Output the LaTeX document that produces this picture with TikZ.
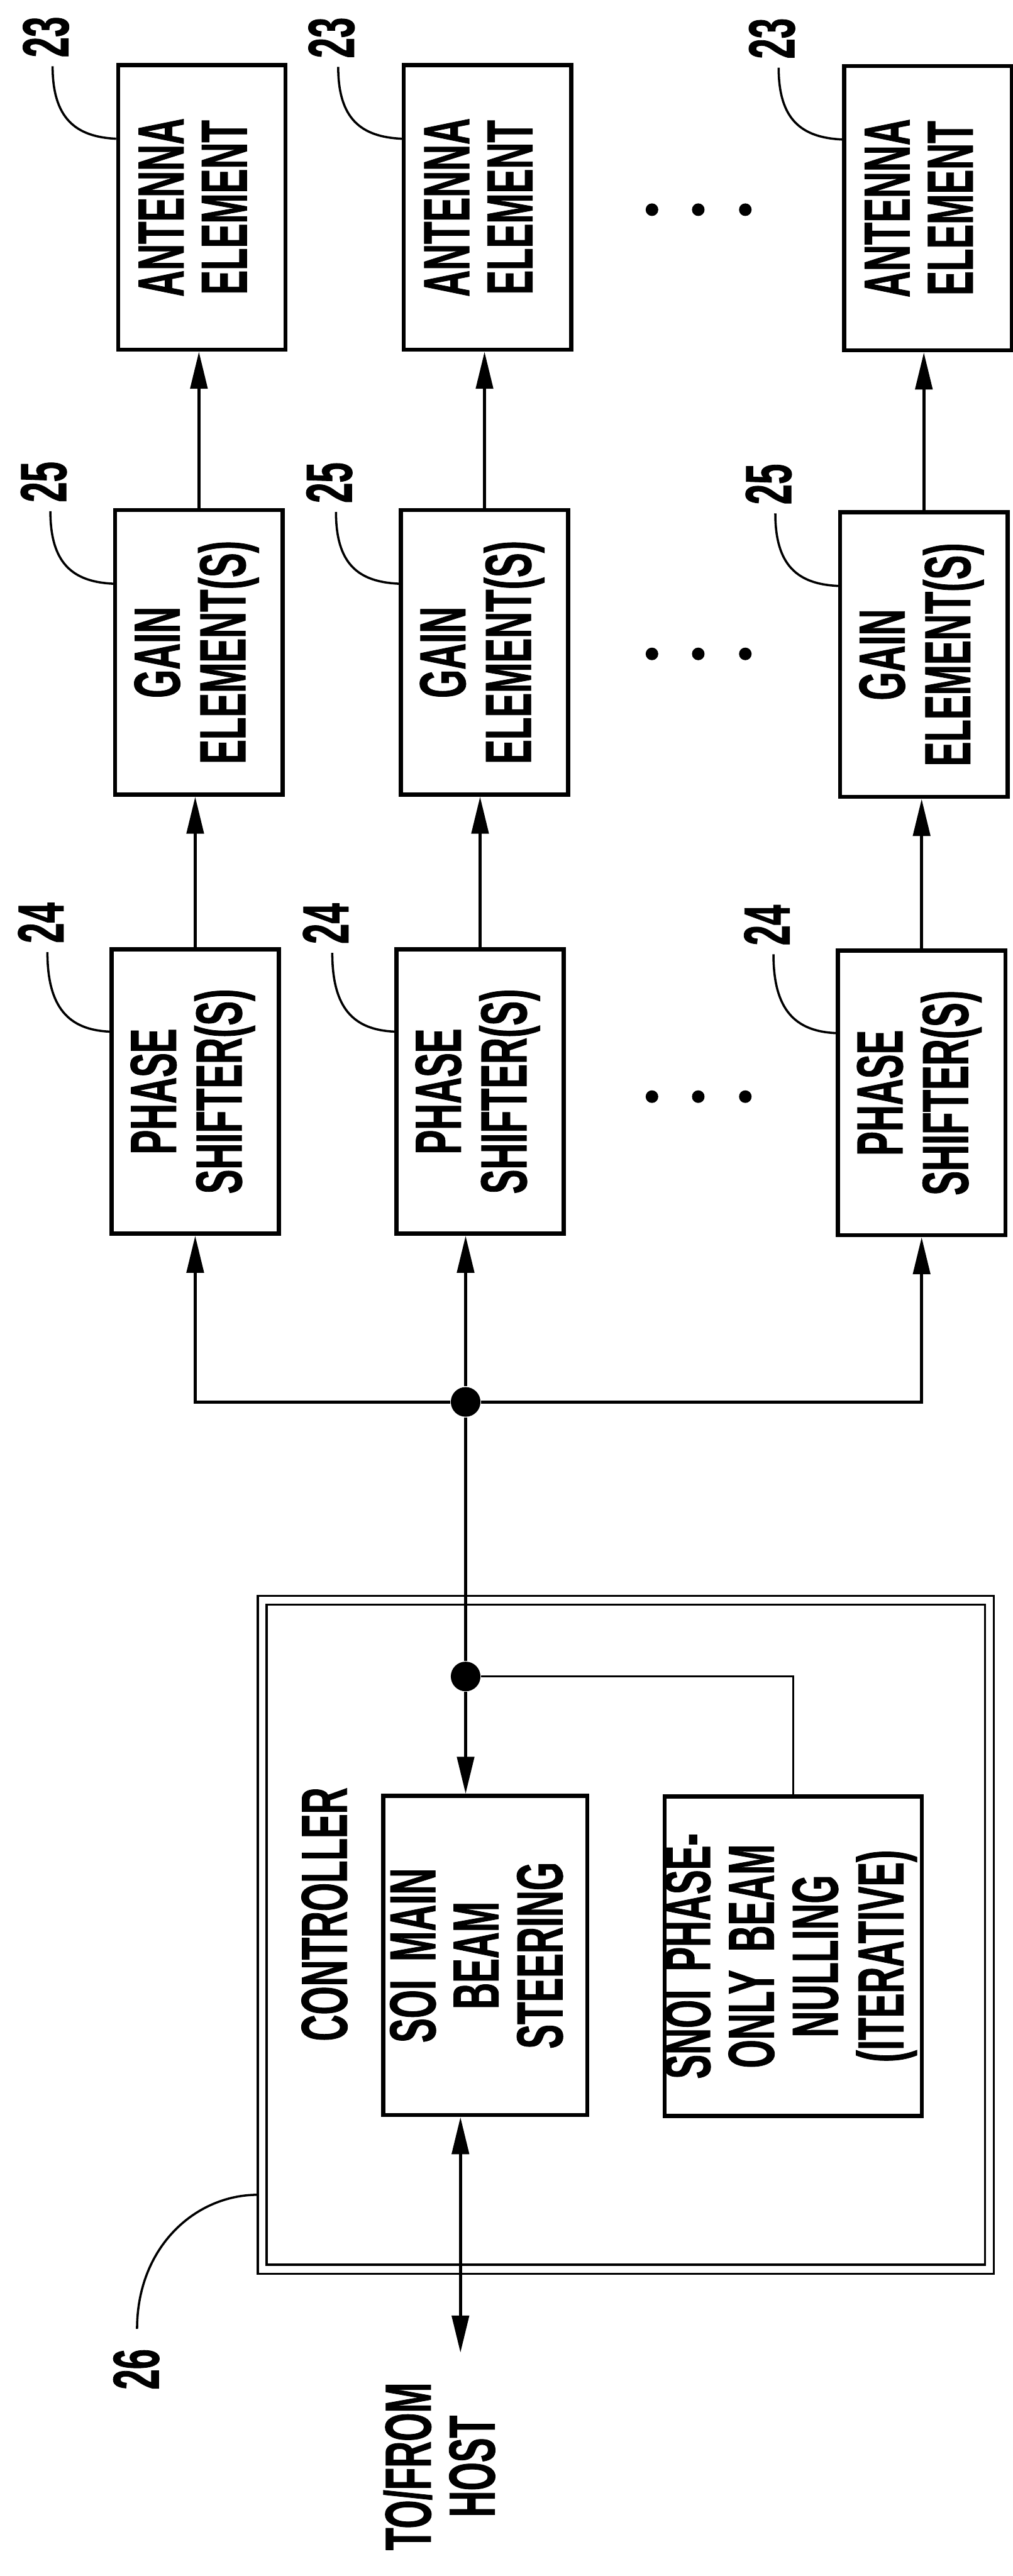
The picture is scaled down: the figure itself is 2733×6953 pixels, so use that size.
\documentclass[tikz,border=0pt]{standalone}
\usepackage{graphicx}
\usepackage{fontspec}
\newfontfamily\lbl{Liberation Sans}[FakeStretch=0.56, WordSpace=1.8, FakeBold=0.8]
\usetikzlibrary{arrows.meta,calc}
\newcommand\myfnt{\lbl\bfseries\fontsize{17.6pt}{16.5pt}\selectfont}
\newcommand\vtxt[1]{\rotatebox{90}{\begin{tabular}{@{}c@{}}#1\end{tabular}}}
\begin{document}
\begin{tikzpicture}[x=0.1pt,y=-0.1pt,
  blk/.style={draw, line width=1.1pt, inner sep=0pt, minimum width=45.2pt, minimum height=76.8pt, font=\myfnt},
  num/.style={inner sep=0pt, font=\myfnt},
  ln/.style={line width=0.8pt},
  lead/.style={line width=0.6pt},
  arr/.style={line width=0.8pt, -{Triangle[length=10pt,width=4.6pt]}},
  dbl/.style={line width=0.8pt, {Triangle[length=10pt,width=4.6pt]}-{Triangle[length=10pt,width=4.6pt]}},
  jdot/.style={circle, fill, inner sep=0pt, minimum size=8pt},
  edot/.style={circle, fill, inner sep=0pt, minimum size=3.4pt}]
\useasboundingbox (0,0) rectangle (2733,6953);

% antenna elements
\node[blk] (a1) at (545,560) {\vtxt{ANTENNA\\ELEMENT}};
\node[blk] (a2) at (1316,560) {\vtxt{ANTENNA\\ELEMENT}};
\node[blk] (a3) at (2505,562) {\vtxt{ANTENNA\\ELEMENT}};
% gain elements
\node[blk] (g1) at (537,1761) {\vtxt{GAIN\\ELEMENT(S)}};
\node[blk] (g2) at (1308,1761) {\vtxt{GAIN\\ELEMENT(S)}};
\node[blk] (g3) at (2494,1767) {\vtxt{GAIN\\ELEMENT(S)}};
% phase shifters
\node[blk] (p1) at (527,2946) {\vtxt{PHASE\\SHIFTER(S)}};
\node[blk] (p2) at (1296,2946) {\vtxt{PHASE\\SHIFTER(S)}};
\node[blk] (p3) at (2488,2950) {\vtxt{PHASE\\SHIFTER(S)}};

% reference numerals
\node[num] (n23a) at (124,100) {\rotatebox{90}{23}};
\node[num] (n23b) at (895,102) {\rotatebox{90}{23}};
\node[num] (n23c) at (2084,104) {\rotatebox{90}{23}};
\node[num] (n25a) at (118,1301) {\rotatebox{90}{25}};
\node[num] (n25b) at (889,1303) {\rotatebox{90}{25}};
\node[num] (n25c) at (2075,1307) {\rotatebox{90}{25}};
\node[num] (n24a) at (110,2491) {\rotatebox{90}{24}};
\node[num] (n24b) at (879,2493) {\rotatebox{90}{24}};
\node[num] (n24c) at (2070,2497) {\rotatebox{90}{24}};

\foreach \n/\b in {n23a/a1,n23b/a2,n23c/a3,n25a/g1,n25b/g2,n25c/g3}
  \draw[lead] ($(\n.south)+(18,22)$) .. controls +(0,140) and +(-110,-5) .. ($(\b.north west)+(0,204)$);
\foreach \n/\b in {n24a/p1,n24b/p2,n24c/p3}
  \draw[lead] ($(\n.south)+(18,22)$) .. controls +(0,150) and +(-110,-5) .. ($(\b.north west)+(0,228)$);

% ellipsis dots
\foreach \yy in {566,1765,2960}
  \foreach \xx in {1760,1885,2012}
    \node[edot] at (\xx,\yy) {};

% arrows between rows
\draw[arr] (g1.north) -- (g1.north |- a1.south);
\draw[arr] (g2.north) -- (g2.north |- a2.south);
\draw[arr] (g3.north) -- (g3.north |- a3.south);
\draw[arr] (p1.north) -- (p1.north |- g1.south);
\draw[arr] (p2.north) -- (p2.north |- g2.south);
\draw[arr] (p3.north) -- (p3.north |- g3.south);

% controller
\node[draw, double, double distance=1.8pt, line width=0.6pt, inner sep=0pt,
      minimum width=196.3pt, minimum height=180.6pt] (ctrl) at (1689.5,5222) {};
\node[num] (ctl) at (876,5167) {\rotatebox{90}{CONTROLLER}};
\node[blk, minimum width=55.1pt, minimum height=86.2pt] (soi) at (1310,5278) {\vtxt{SOI MAIN\\BEAM\\STEERING}};
\node[blk, minimum width=68.5pt, minimum height=86.2pt] (snoi) at (2141,5280) {\vtxt{SNOI PHASE-\\ONLY BEAM\\NULLING\\(ITERATIVE)}};

% junctions and distribution
\node[jdot] (j1) at (1257,3784) {};
\node[jdot] (j2) at (1257,4525) {};
\draw[arr] (j1) -| (p1.south);
\draw[arr] (j1) -| (p3.south);
\draw[arr] (j1) -- (j1 |- p2.south);
\draw[ln] (j1) -- (j2);
\draw[arr] (j2) -- (j2 |- soi.north);
\draw[lead] (j2) -| (snoi.north);

% host link
\coordinate (hend) at (1243,6350);
\draw[dbl] (hend |- soi.south) -- (hend);
\node[num] (host) at (1210,6657) {\vtxt{TO/FROM\\HOST}};

% label 26
\node[num] (n26) at (368,6395) {\rotatebox{90}{26}};
\coordinate (c26) at (696,5924);
\draw[lead] ($(n26.north)+(2,-52)$) .. controls +(0,-220) and +(-170,0) .. (c26);
\end{tikzpicture}
\end{document}
